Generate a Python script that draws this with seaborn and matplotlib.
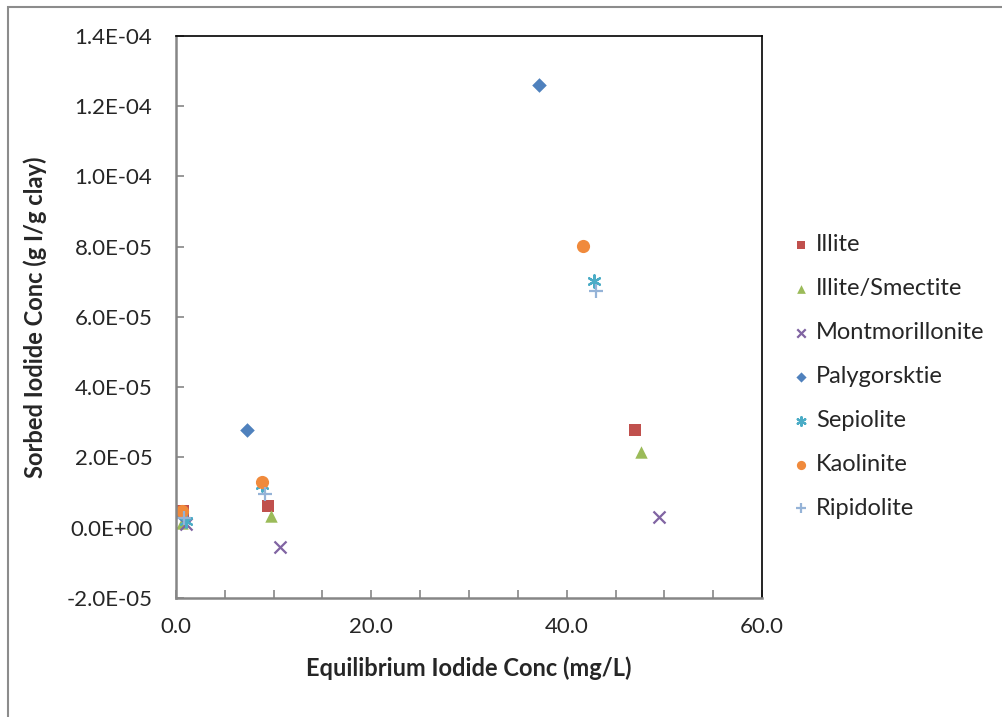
import matplotlib
matplotlib.use("Agg")
from matplotlib import pyplot as plt
from matplotlib.ticker import FuncFormatter, MultipleLocator
from matplotlib.patches import Rectangle
import seaborn as sns
import pandas as pd

# clay series
labels = ["Illite", "Illite/Smectite", "Montmorillonite", "Palygorsktie",
          "Sepiolite", "Kaolinite", "Ripidolite"]

illite_x = [0.7, 9.4, 47.0]
illite_y = [4.8e-06, 6.3e-06, 2.79e-05]
illsmec_x = [0.6, 9.7, 47.6]
illsmec_y = [1.4e-06, 3.4e-06, 2.16e-05]
mont_x = [1.0, 10.6, 49.4]
mont_y = [1.1e-06, -5.4e-06, 3.1e-06]
paly_x = [0.5, 7.3, 37.2]
paly_y = [4.0e-06, 2.79e-05, 1.26e-04]
sepi_x = [1.0, 8.8, 42.8]
sepi_y = [2.0e-06, 1.22e-05, 7.03e-05]
kaol_x = [0.6, 8.8, 41.7]
kaol_y = [4.8e-06, 1.30e-05, 8.02e-05]
ripi_x = [0.8, 9.1, 43.0]
ripi_y = [2.8e-06, 9.7e-06, 6.74e-05]

xs = [illite_x, illsmec_x, mont_x, paly_x, sepi_x, kaol_x, ripi_x]
ys = [illite_y, illsmec_y, mont_y, paly_y, sepi_y, kaol_y, ripi_y]

colors = ["#C0504D", "#9BBB59", "#8064A2", "#4F81BD", "#4BACC6", "#F08A3C", "#95B3D7"]
markers = ["s", "^", "x", "D", (6, 2, 0), "o", "+"]
sizes = [80, 80, 75, 55, 80, 90, 90]

rows = []
for name, xv, yv in zip(labels, xs, ys):
    for a, b in zip(xv, yv):
        rows.append({"clay": name, "conc": a, "sorbed": b})
df = pd.DataFrame(rows)

sns.set_style("white")
plt.rcParams["font.family"] = ["Lato", "DejaVu Sans"]

fig = plt.figure(figsize=(10.02, 7.17), dpi=100)
ax = fig.add_axes([0.1756, 0.166, 0.585, 0.784])

line_markers = ["x", "+", (6, 2, 0)]
for name, c, m, s in zip(labels, colors, markers, sizes):
    sub = df[df["clay"] == name]
    if m in line_markers:
        sns.scatterplot(data=sub, x="conc", y="sorbed", ax=ax, marker=m, s=s,
                        color=c, linewidth=1.6, label=name)
    else:
        sns.scatterplot(data=sub, x="conc", y="sorbed", ax=ax, marker=m, s=s,
                        color=c, edgecolor=c, linewidth=0, label=name)

ax.set_xlim(0, 60)
ax.set_ylim(-2e-05, 1.4e-04)
ax.xaxis.set_major_locator(MultipleLocator(20))
ax.xaxis.set_minor_locator(MultipleLocator(5))
ax.yaxis.set_major_locator(MultipleLocator(2e-05))
ax.xaxis.set_major_formatter(FuncFormatter(lambda v, p: f"{v:.1f}"))
ax.yaxis.set_major_formatter(FuncFormatter(lambda v, p: f"{v:.1E}"))
ax.tick_params(axis="both", which="both", direction="in", length=6, width=1.2,
               color="#868686", labelsize=16, bottom=True, left=True)
ax.tick_params(axis="y", pad=17)
ax.tick_params(axis="x", pad=14)

for side in ["left", "bottom"]:
    ax.spines[side].set_color("#868686")
    ax.spines[side].set_linewidth(1.8)
for side in ["top", "right"]:
    ax.spines[side].set_color("black")
    ax.spines[side].set_linewidth(1.2)

ax.set_xlabel("Equilibrium Iodide Conc (mg/L)", fontsize=17, fontweight="bold", labelpad=14)
ax.set_ylabel("Sorbed Iodide Conc (g I/g clay)", fontsize=17, fontweight="bold", labelpad=14)

h, l = ax.get_legend_handles_labels()
ax.legend_.remove()
fig.legend(h, l, loc="center left", bbox_to_anchor=(0.766, 0.475), frameon=False,
           fontsize=17, labelspacing=0.97, handletextpad=0.15, markerscale=0.7,
           handlelength=1.0)

fig.patches.append(Rectangle((0.008, -0.05), 1.1, 1.04, transform=fig.transFigure,
                             fill=False, edgecolor="#8C8C8C", linewidth=1.5))

fig.savefig("out.png", dpi=100)
